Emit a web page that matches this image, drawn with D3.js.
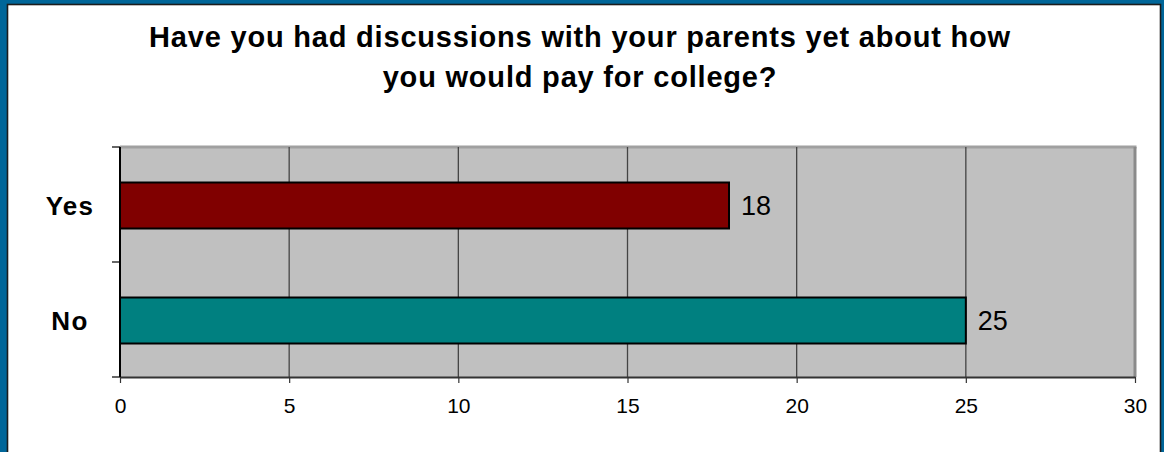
<!DOCTYPE html>
<html>
<head>
<meta charset="utf-8">
<script src="https://cdn.jsdelivr.net/npm/d3@7"></script>
<style>
  html, body { margin: 0; padding: 0; background: #ffffff; }
  svg { display: block; }
  text { font-family: "Liberation Sans", Arial, sans-serif; }
</style>
</head>
<body>
<svg id="chart" width="1164" height="452"></svg>
<script>
// Survey answers and counts
const categories = ["Yes", "No"];
const counts = [18, 25];
const barColors = ["#800000", "#008080"];
const xTicks = [0, 5, 10, 15, 20, 25, 30];
const titleLines = [
  "Have you had discussions with your parents yet about how",
  "you would pay for college?"
];

const W = 1164, H = 452;
const svg = d3.select("#chart");

// Blue outer frame with a thin dark inner rule
svg.append("rect").attr("x", 0).attr("y", 0).attr("width", W).attr("height", H)
  .attr("fill", "#006699");
svg.append("rect").attr("x", 7.5).attr("y", 4.5).attr("width", 1153).attr("height", H + 10)
  .attr("fill", "#ffffff").attr("stroke", "#1c1c1c").attr("stroke-width", 1.6);

// Title
const title = svg.append("text")
  .attr("text-anchor", "middle")
  .attr("font-size", 29).attr("font-weight", "bold")
  .attr("letter-spacing", 0.8)
  .attr("fill", "#000");
titleLines.forEach((line, i) => {
  title.append("tspan").attr("x", 580).attr("y", 47 + i * 40).text(line);
});

// Plot region
const plot = { left: 120, right: 1135, top: 147, bottom: 377 };

const x = d3.scaleLinear().domain([0, 30]).range([plot.left, plot.right]);
const y = d3.scaleBand().domain(categories)
  .range([plot.top, plot.bottom]).paddingInner(0.6).paddingOuter(0.3);

// Grey plot background with border
svg.append("rect")
  .attr("x", plot.left).attr("y", plot.top)
  .attr("width", plot.right - plot.left).attr("height", plot.bottom - plot.top)
  .attr("fill", "#c0c0c0");
svg.append("line")
  .attr("x1", plot.left).attr("x2", plot.right + 1.5)
  .attr("y1", plot.top).attr("y2", plot.top)
  .attr("stroke", "#a0a0a0").attr("stroke-width", 3);
svg.append("line")
  .attr("x1", plot.right).attr("x2", plot.right)
  .attr("y1", plot.top).attr("y2", plot.bottom)
  .attr("stroke", "#8a8a8a").attr("stroke-width", 3);

// Vertical gridlines
svg.append("g").selectAll("line")
  .data(xTicks.filter(t => t > 0 && t < 30))
  .join("line")
  .attr("x1", d => x(d)).attr("x2", d => x(d))
  .attr("y1", plot.top).attr("y2", plot.bottom)
  .attr("stroke", "#444").attr("stroke-width", 1.3);

// Bars
svg.append("g").selectAll("rect")
  .data(categories)
  .join("rect")
  .attr("x", x(0))
  .attr("y", d => y(d) + 1)
  .attr("width", (d, i) => x(counts[i]) - x(0))
  .attr("height", y.bandwidth())
  .attr("fill", (d, i) => barColors[i])
  .attr("stroke", "#000").attr("stroke-width", 2);

// Value labels
svg.append("g").selectAll("text")
  .data(categories)
  .join("text")
  .attr("x", (d, i) => x(counts[i]) + 12)
  .attr("y", d => y(d) + y.bandwidth() / 2 + 10)
  .attr("font-size", 27)
  .attr("fill", "#000")
  .text((d, i) => counts[i]);

// X axis
const xAxis = svg.append("g")
  .attr("transform", `translate(0,${plot.bottom})`)
  .call(d3.axisBottom(x).tickValues(xTicks).tickSize(6).tickSizeOuter(0).tickPadding(0));
xAxis.select(".domain").attr("stroke", "#333").attr("stroke-width", 2);
xAxis.selectAll(".tick line").attr("stroke", "#333").attr("stroke-width", 1.2);
xAxis.selectAll(".tick text")
  .attr("font-family", "Liberation Sans, Arial, sans-serif")
  .attr("font-size", 21).attr("fill", "#000")
  .attr("dy", null).attr("y", 36);

// Y axis: tick marks sit on the band boundaries
svg.append("line")
  .attr("x1", plot.left).attr("x2", plot.left)
  .attr("y1", plot.top).attr("y2", plot.bottom)
  .attr("stroke", "#000").attr("stroke-width", 2);
const boundaries = [plot.top, plot.top + y.step(), plot.bottom];
svg.append("g").selectAll("line")
  .data(boundaries)
  .join("line")
  .attr("x1", plot.left - 8).attr("x2", plot.left)
  .attr("y1", d => d).attr("y2", d => d)
  .attr("stroke", "#000").attr("stroke-width", 1.2);

// Category labels
svg.append("g").selectAll("text")
  .data(categories)
  .join("text")
  .attr("x", 70)
  .attr("y", d => y(d) + y.bandwidth() / 2 + 10)
  .attr("text-anchor", "middle")
  .attr("font-size", 26).attr("font-weight", "bold")
  .attr("letter-spacing", 1.3)
  .attr("fill", "#000")
  .text(d => d);
</script>
</body>
</html>
